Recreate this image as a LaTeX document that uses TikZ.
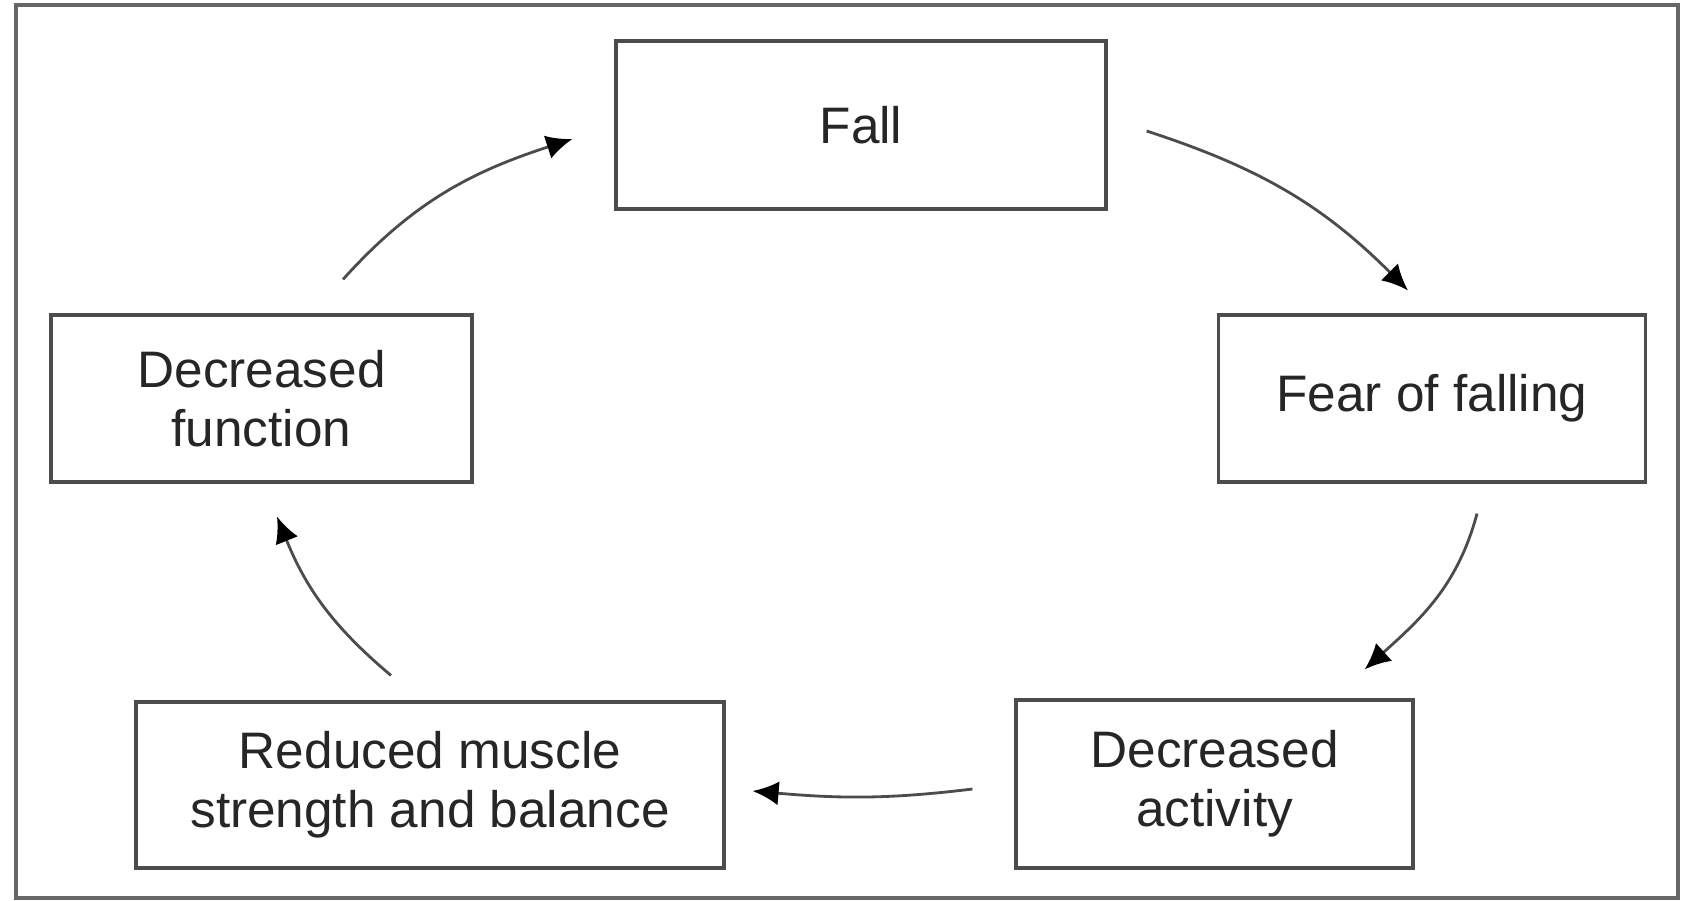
\documentclass[tikz,border=0pt]{standalone}
\usepackage{fontspec}
\setmainfont{Liberation Sans}
\usetikzlibrary{arrows.meta}

\begin{document}
\begin{tikzpicture}[
    box/.style={draw=black!70, line width=0.9pt, align=center, inner sep=0pt,
      font=\fontsize{14.6}{16.8}\selectfont, text=black!85},
    cyc/.style={-{Latex[length=2.6mm,width=2.4mm,black]}, draw=black!70, line width=0.8pt}
  ]
  % Fix the canvas and draw the outer frame
  \useasboundingbox (0,0) rectangle (16.81,9);
  \draw[black!60, line width=1.2pt] (0.16,0.02) rectangle (16.78,8.95);

  % The five stages of the cycle
  \node[box, minimum width=4.90cm, minimum height=1.68cm] (fall) at (8.61,7.75) {Fall};
  \node[box, minimum width=4.27cm, minimum height=1.67cm] (fear) at (14.32,5.015) {Fear of falling};
  \node[box, minimum width=3.97cm, minimum height=1.68cm] (decact) at (12.145,1.16) {Decreased\\ activity};
  \node[box, minimum width=5.88cm, minimum height=1.66cm] (reduced) at (4.30,1.15) {Reduced muscle\\ strength and balance};
  \node[box, minimum width=4.21cm, minimum height=1.67cm] (decfunc) at (2.615,5.015) {Decreased\\ function};

  % Curved arrows going round clockwise
  \draw[cyc] ([shift={(0.39,-0.06)}]fall.east) to[out=-18, in=135] ([shift={(-0.24,0.23)}]fear.north);
  \draw[cyc] ([shift={(0.45,-0.30)}]fear.south) to[out=-105, in=42] ([shift={(-0.50,0.29)}]decact.north east);
  \draw[cyc] ([shift={(-0.42,-0.05)}]decact.west) to[out=187, in=-5] ([shift={(0.27,-0.06)}]reduced.east);
  \draw[cyc] ([shift={(-0.39,0.25)}]reduced.north) to[out=140, in=-68] ([shift={(0.155,-0.33)}]decfunc.south);
  \draw[cyc] ([shift={(0.815,0.34)}]decfunc.north) to[out=48, in=198] ([shift={(-0.42,-0.14)}]fall.west);
\end{tikzpicture}
\end{document}
